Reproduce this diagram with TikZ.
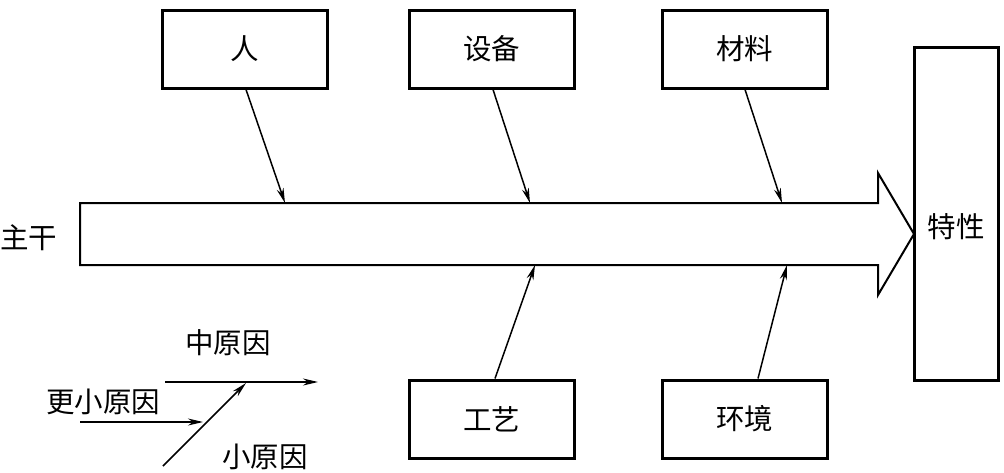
\documentclass[tikz,border=0pt]{standalone}
\usepackage{fontspec}
\newfontfamily\cjk{Noto Sans CJK SC}
\usetikzlibrary{arrows.meta,calc}
\begin{document}
\begin{tikzpicture}[x=1pt,y=-1pt,
  cause/.style={draw,line width=3pt,minimum width=165pt,minimum height=78pt,inner sep=0pt,font=\cjk\fontsize{28.5}{32}\selectfont},
  lbl/.style={inner sep=0pt,font=\cjk\fontsize{28.5}{32}\selectfont},
  arr/.style={line width=1.5pt,-{Stealth[length=15pt,width=7pt]}}]
\useasboundingbox (0,0) rectangle (1004,472);
% main arrow
\draw[line width=2pt] (80,203) coordinate (sl) -- (878,203) -- (878,173) -- (914,234) coordinate (tip) -- (878,295) -- (878,265) -- (80,265) -- cycle;
\coordinate (t1) at (285,203);
\coordinate (t2) at (530,203);
\coordinate (t3) at (782,203);
\coordinate (b1) at (535,265);
\coordinate (b2) at (787,265);
\node[lbl] (trunk) at (29,238) {主干};
\node[cause,minimum width=84pt,minimum height=333pt] (res) at (956,213.5) {\raisebox{-13pt}[\height][\depth]{特性}};
\node[cause] (p) at (244.5,49) {人};
\node[cause] (m) at (491.5,49) {设备};
\node[cause] (mat) at (744.5,49) {材料};
\node[cause] (proc) at (491.5,419) {工艺};
\node[cause] (env) at (744.5,419) {环境};
\draw[arr] ($(p.south)+(1.5,0)$) -- (t1);
\draw[arr] ($(m.south)+(1.5,0)$) -- (t2);
\draw[arr] ($(mat.south)+(0.5,0)$) -- (t3);
\draw[arr] ($(proc.north)+(3.5,0)$) -- (b1);
\draw[arr] ($(env.north)+(13.5,0)$) -- (b2);
% legend
\node[lbl] (mid) at (228,343) {中原因};
\node[lbl] (smaller) at (103,402) {更小原因};
\node[lbl] (small) at (265,457) {小原因};
\coordinate (m0) at (165,382);
\coordinate (m1) at (318,382);
\coordinate (s0) at (163,466);
\coordinate (s1) at (246,383);
\coordinate (e0) at (80,422);
\coordinate (e1) at (203,422);
\draw[arr] (m0) -- (m1);
\draw[arr] (s0) -- (s1);
\draw[arr] (e0) -- (e1);
\end{tikzpicture}
\end{document}
